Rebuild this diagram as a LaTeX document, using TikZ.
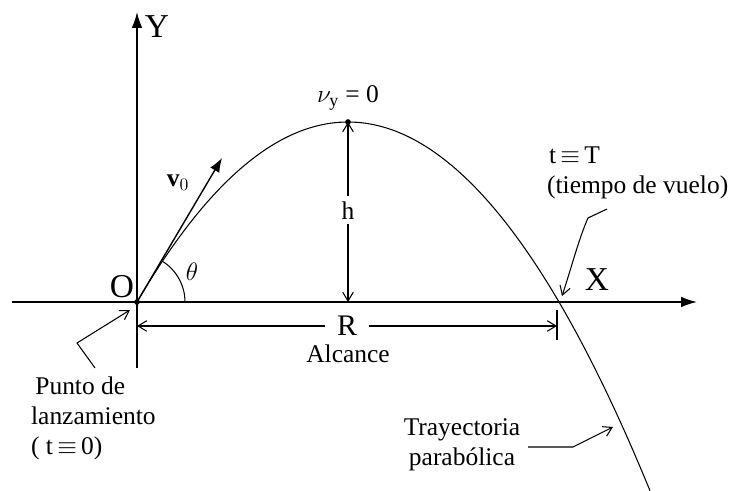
\documentclass[tikz,border=0pt]{standalone}
\usepackage{fontspec}
\setmainfont{Liberation Serif}
\usetikzlibrary{arrows.meta, calc, positioning}

\tikzset{
  axis/.style={line width=0.9pt, -{Latex[length=9pt,width=6pt]}},
  thin arrow/.style={line width=0.6pt, -{Straight Barb[length=5pt,width=6pt]}},
  dim arrow/.style={line width=0.6pt, {Straight Barb[length=5pt,width=6pt]}-{Straight Barb[length=5pt,width=6pt]}},
  label text/.style={font=\fontsize{14.5}{17}\selectfont, inner sep=1pt},
  axis text/.style={font=\fontsize{19}{22}\selectfont, inner sep=1pt}
}

\begin{document}
\begin{tikzpicture}[x=0.02cm, y=0.02cm]
\useasboundingbox (0,0) rectangle (735,491);
% points
\coordinate (O) at (137,189);
\coordinate (apex) at (348,369);
\coordinate (land) at (559,189);
\coordinate (vtip) at (222,333);
% axes
\draw[axis] (12,189) -- (697,189);
\draw[axis] (137,123) -- (137,479);
\node[axis text] (xlab) at (597,211) {X};
\node[axis text] (ylab) at (157,464) {Y};
\node[axis text] (olab) at (122,204) {O};
% trajectory
\draw[line width=0.6pt] plot[domain=137:650, samples=120] ({\x},{189+180*(1-((\x-348)/211)^2)});
\fill (O) circle (1.6pt);
\fill (apex) circle (1.6pt);
\node[label text] (vy) at (348,393) {$\nu_{\mathrm{y}}$ = 0};
% initial velocity
\draw[line width=0.8pt, -{Latex[length=8pt,width=6pt]}] (O) -- (vtip);
\node[label text] (vlab) at (178,308) {$\mathbf{v}_0$};
\draw[line width=0.6pt] ($(O)+(48,0)$) arc[start angle=0, end angle=59, radius=48];
\node[label text] (theta) at (192,219) {$\theta$};
% height
\draw[dim arrow] (apex) -- (apex |- O)
  node[pos=0.49, fill=white, label text, inner sep=3pt] (hlab) {h};
% range
\coordinate (Rl) at (137,165);
\coordinate (Rr) at (557,165);
\draw[line width=0.8pt] (557,181) -- (557,151);
\draw[dim arrow] (Rl) -- (Rr)
  node[midway, fill=white, font=\fontsize{17}{19}\selectfont, inner xsep=7pt, inner ysep=0pt] (rlab) {R};
\node[label text] (alcance) at (348,137) {Alcance};
% launch point
\node[label text, align=left, anchor=north west] (punto) at (29,116)
  {\,Punto de\\lanzamiento\\( t\,$\equiv$\,0)};
\draw[thin arrow] (95,123) -- (77,148) -- (130,181);
% time of flight
\node[label text, anchor=west] (tT) at (547,336) {t\,$\equiv$\,T};
\node[label text, anchor=west] (vuelo) at (545,304) {(tiempo de vuelo)};
\draw[thin arrow] (607,282) -- (588,273) .. controls (578,250) and (572,225) .. (562,195);
% trajectory label
\node[label text, align=center] (tray) at (462,46) {Trayectoria\\parabólica};
\draw[thin arrow] (528,44) -- (573,44) -- (613,64);
\end{tikzpicture}
\end{document}
